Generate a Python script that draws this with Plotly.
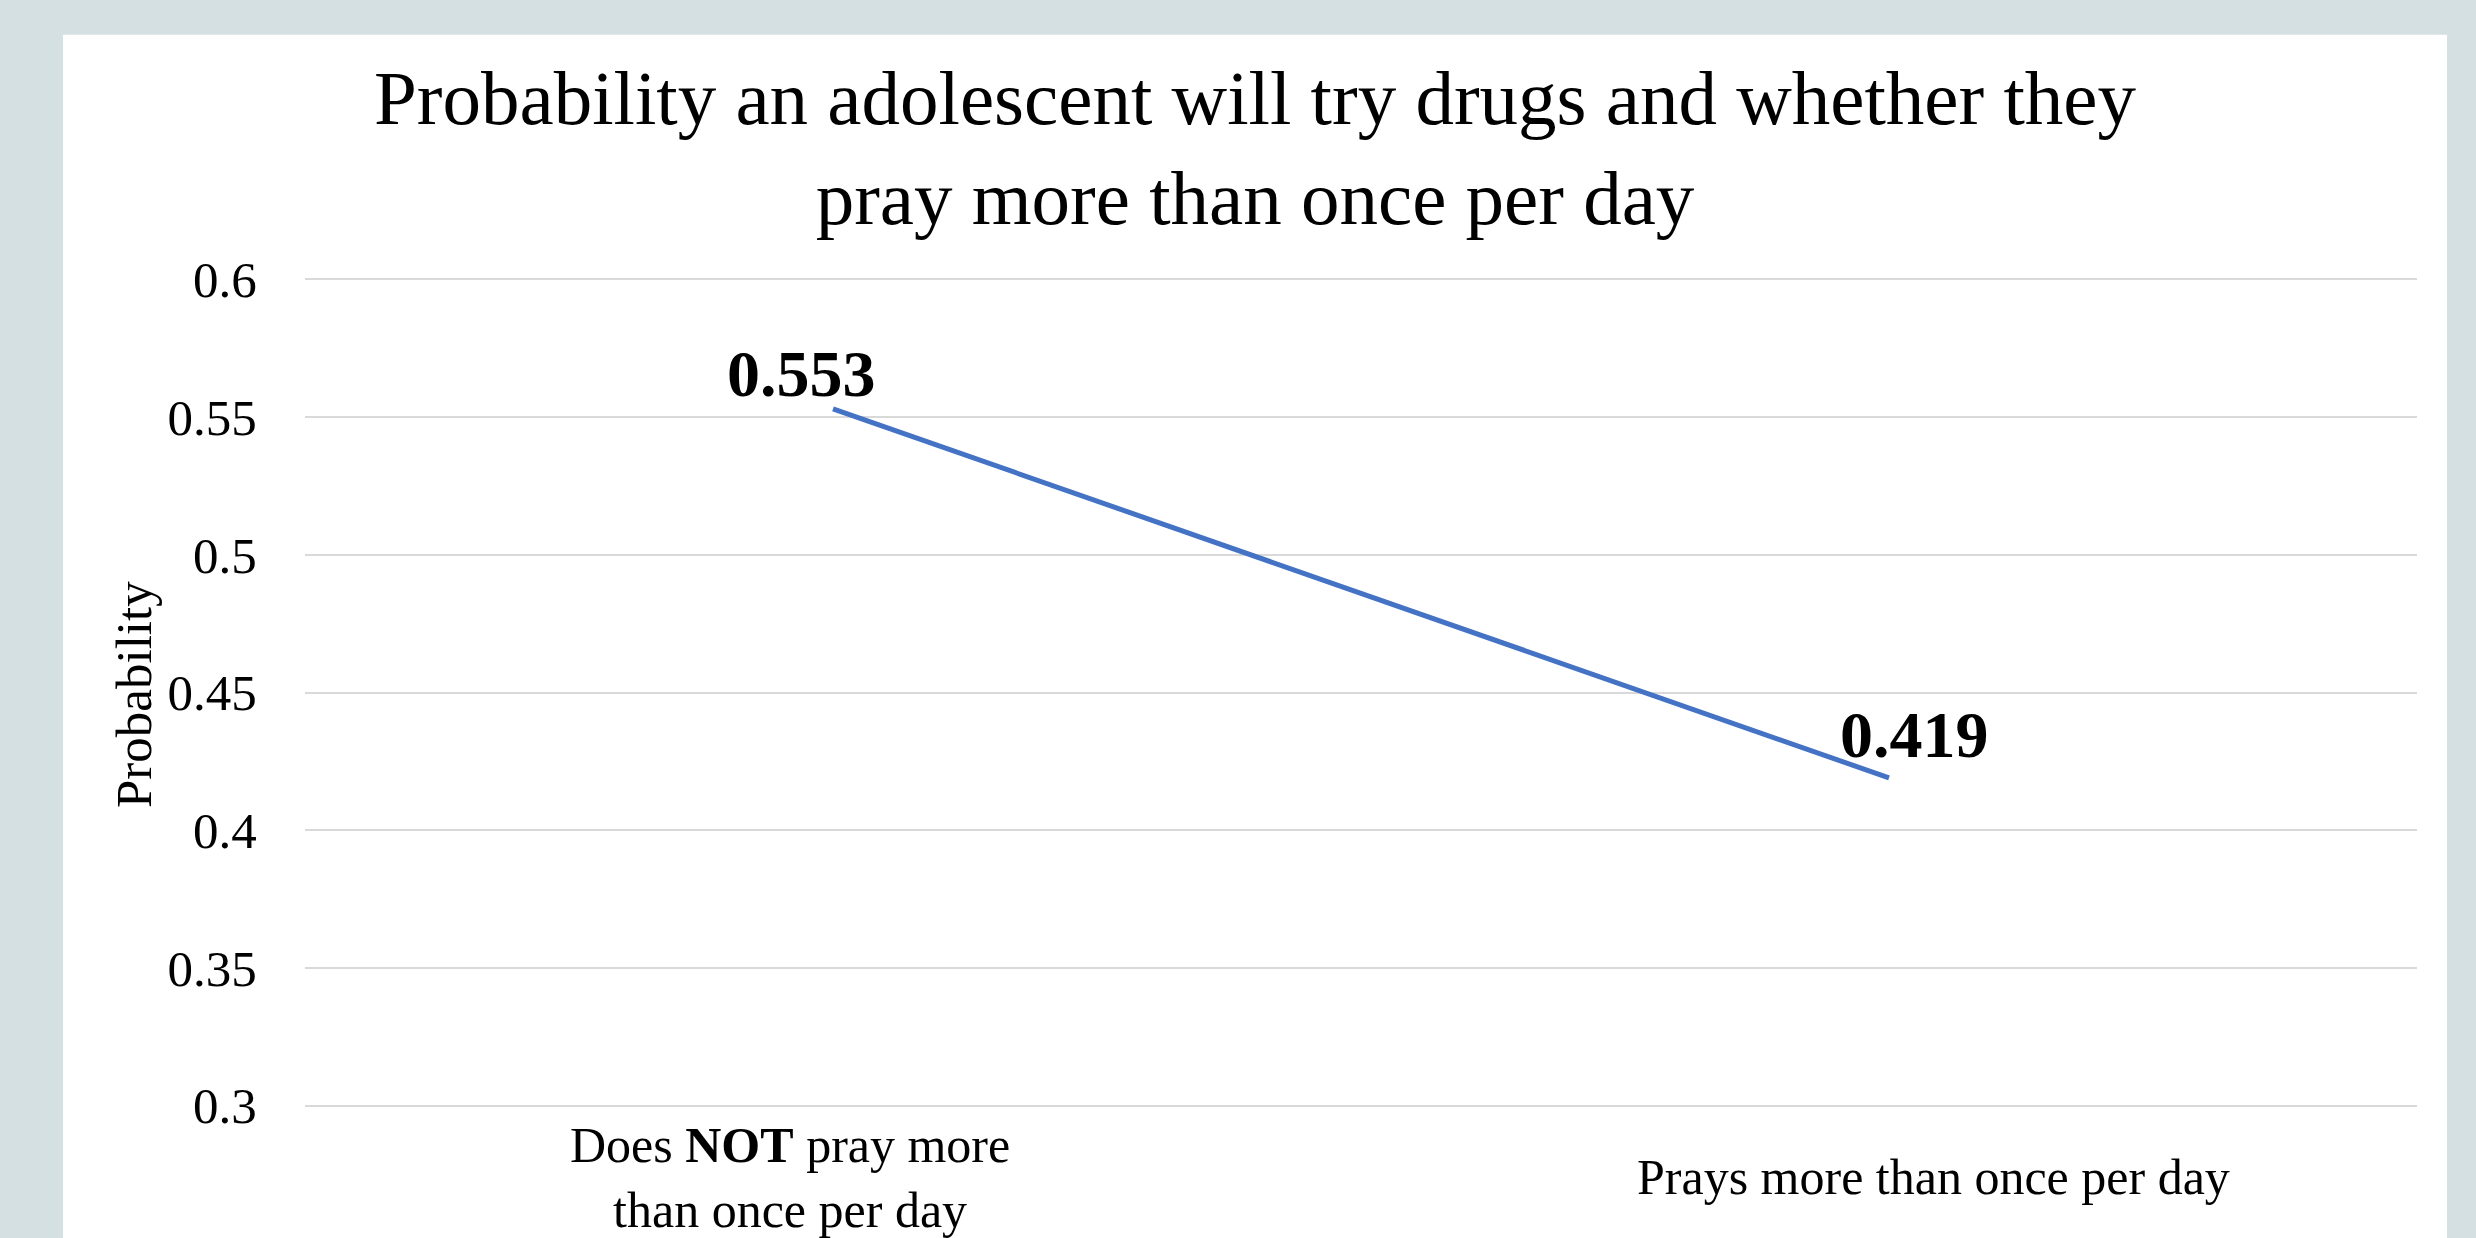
import plotly.graph_objects as go

# ---- data ----
categories = ["Does <b>NOT</b> pray more<br>than once per day", "Prays more than once per day"]
probabilities = [0.553, 0.419]
value_labels = ["0.553", "0.419"]
y_tick_values = [0.3, 0.35, 0.4, 0.45, 0.5, 0.55, 0.6]
y_tick_labels = ["0.3", "0.35", "0.4", "0.45", "0.5", "0.55", "0.6"]
title_text = "Probability an adolescent will try drugs and whether they<br>pray more than once per day"
y_axis_title = "Probability"

# ---- layout geometry (pixels) ----
W, H = 2476, 1238
y_lo, y_hi = 0.3, 0.6
pad_v = 0.0005                       # small range padding so edge gridlines get drawn
px_top, px_bot = 279.5, 1105.5       # pixel positions of 0.6 and 0.3
px_per_unit = (px_bot - px_top) / (y_hi - y_lo)
plot_l, plot_r = 305, 2417
plot_t = px_top - pad_v * px_per_unit
plot_b = px_bot + pad_v * px_per_unit
panel_l, panel_r, panel_t, panel_b = 63, 2447, 35, 1238
pw, ph = plot_r - plot_l, plot_b - plot_t

def px_x(x):
    return (x - plot_l) / pw

def px_y(y):
    return (plot_b - y) / ph

FONT = "Liberation Serif"
LINE_COLOR = "#4472C4"

fig = go.Figure()
fig.add_trace(go.Scatter(
    x=categories, y=probabilities, mode="lines",
    line=dict(color=LINE_COLOR, width=5),
    hoverinfo="skip", showlegend=False,
))

# data labels
label_shifts = [(-32, 35), (25, 43)]
for cat, val, txt, (dx, dy) in zip(categories, probabilities, value_labels, label_shifts):
    fig.add_annotation(x=cat, y=val, xref="x", yref="y", text=f"<b>{txt}</b>",
                       showarrow=False, xanchor="center", yanchor="middle",
                       xshift=dx, yshift=dy,
                       font=dict(family=FONT, size=66, color="black"))

# category labels
cat_shifts = [-43, 44]
for cat, dx in zip(categories, cat_shifts):
    fig.add_annotation(x=cat, y=px_y(1177), xref="x", yref="paper", text=cat,
                       showarrow=False, xanchor="center", yanchor="middle",
                       xshift=dx, align="center",
                       font=dict(family=FONT, size=50, color="black"))

# y axis title
fig.add_annotation(x=px_x(134), y=px_y(695), xref="paper", yref="paper",
                   text=y_axis_title, textangle=-90, showarrow=False,
                   xanchor="center", yanchor="middle",
                   font=dict(family=FONT, size=51, color="black"))

# white panel
fig.add_shape(type="rect", xref="paper", yref="paper", layer="below",
              x0=px_x(panel_l), x1=px_x(panel_r), y0=px_y(panel_b + 20), y1=px_y(panel_t),
              fillcolor="white", line=dict(width=0))

fig.update_layout(
    width=W, height=H,
    margin=dict(l=plot_l, r=W - plot_r, t=plot_t, b=H - plot_b, pad=0),
    paper_bgcolor="#d5e0e2",
    plot_bgcolor="rgba(0,0,0,0)",
    title=dict(text=title_text, x=1255 / W, xanchor="center", xref="container",
               y=1 - 124 / H, yanchor="middle", yref="container",
               font=dict(family=FONT, size=77, color="black")),
    font=dict(family=FONT, color="black"),
    showlegend=False,
    xaxis=dict(type="category", range=[-0.5, 1.5], showgrid=False, showticklabels=False,
               showline=False, zeroline=False, ticks=""),
    yaxis=dict(range=[y_lo - pad_v, y_hi + pad_v], tickvals=y_tick_values, ticktext=y_tick_labels,
               showgrid=True, gridcolor="#d9d9d9", gridwidth=2, zeroline=False,
               showline=False, ticks="outside", ticklen=37, tickcolor="rgba(0,0,0,0)",
               tickfont=dict(family=FONT, size=51, color="black")),
)

fig.write_html(
    "out.html",
    config={"displayModeBar": False},
    post_script="document.body.style.margin='0px';document.body.style.overflow='hidden';",
)
